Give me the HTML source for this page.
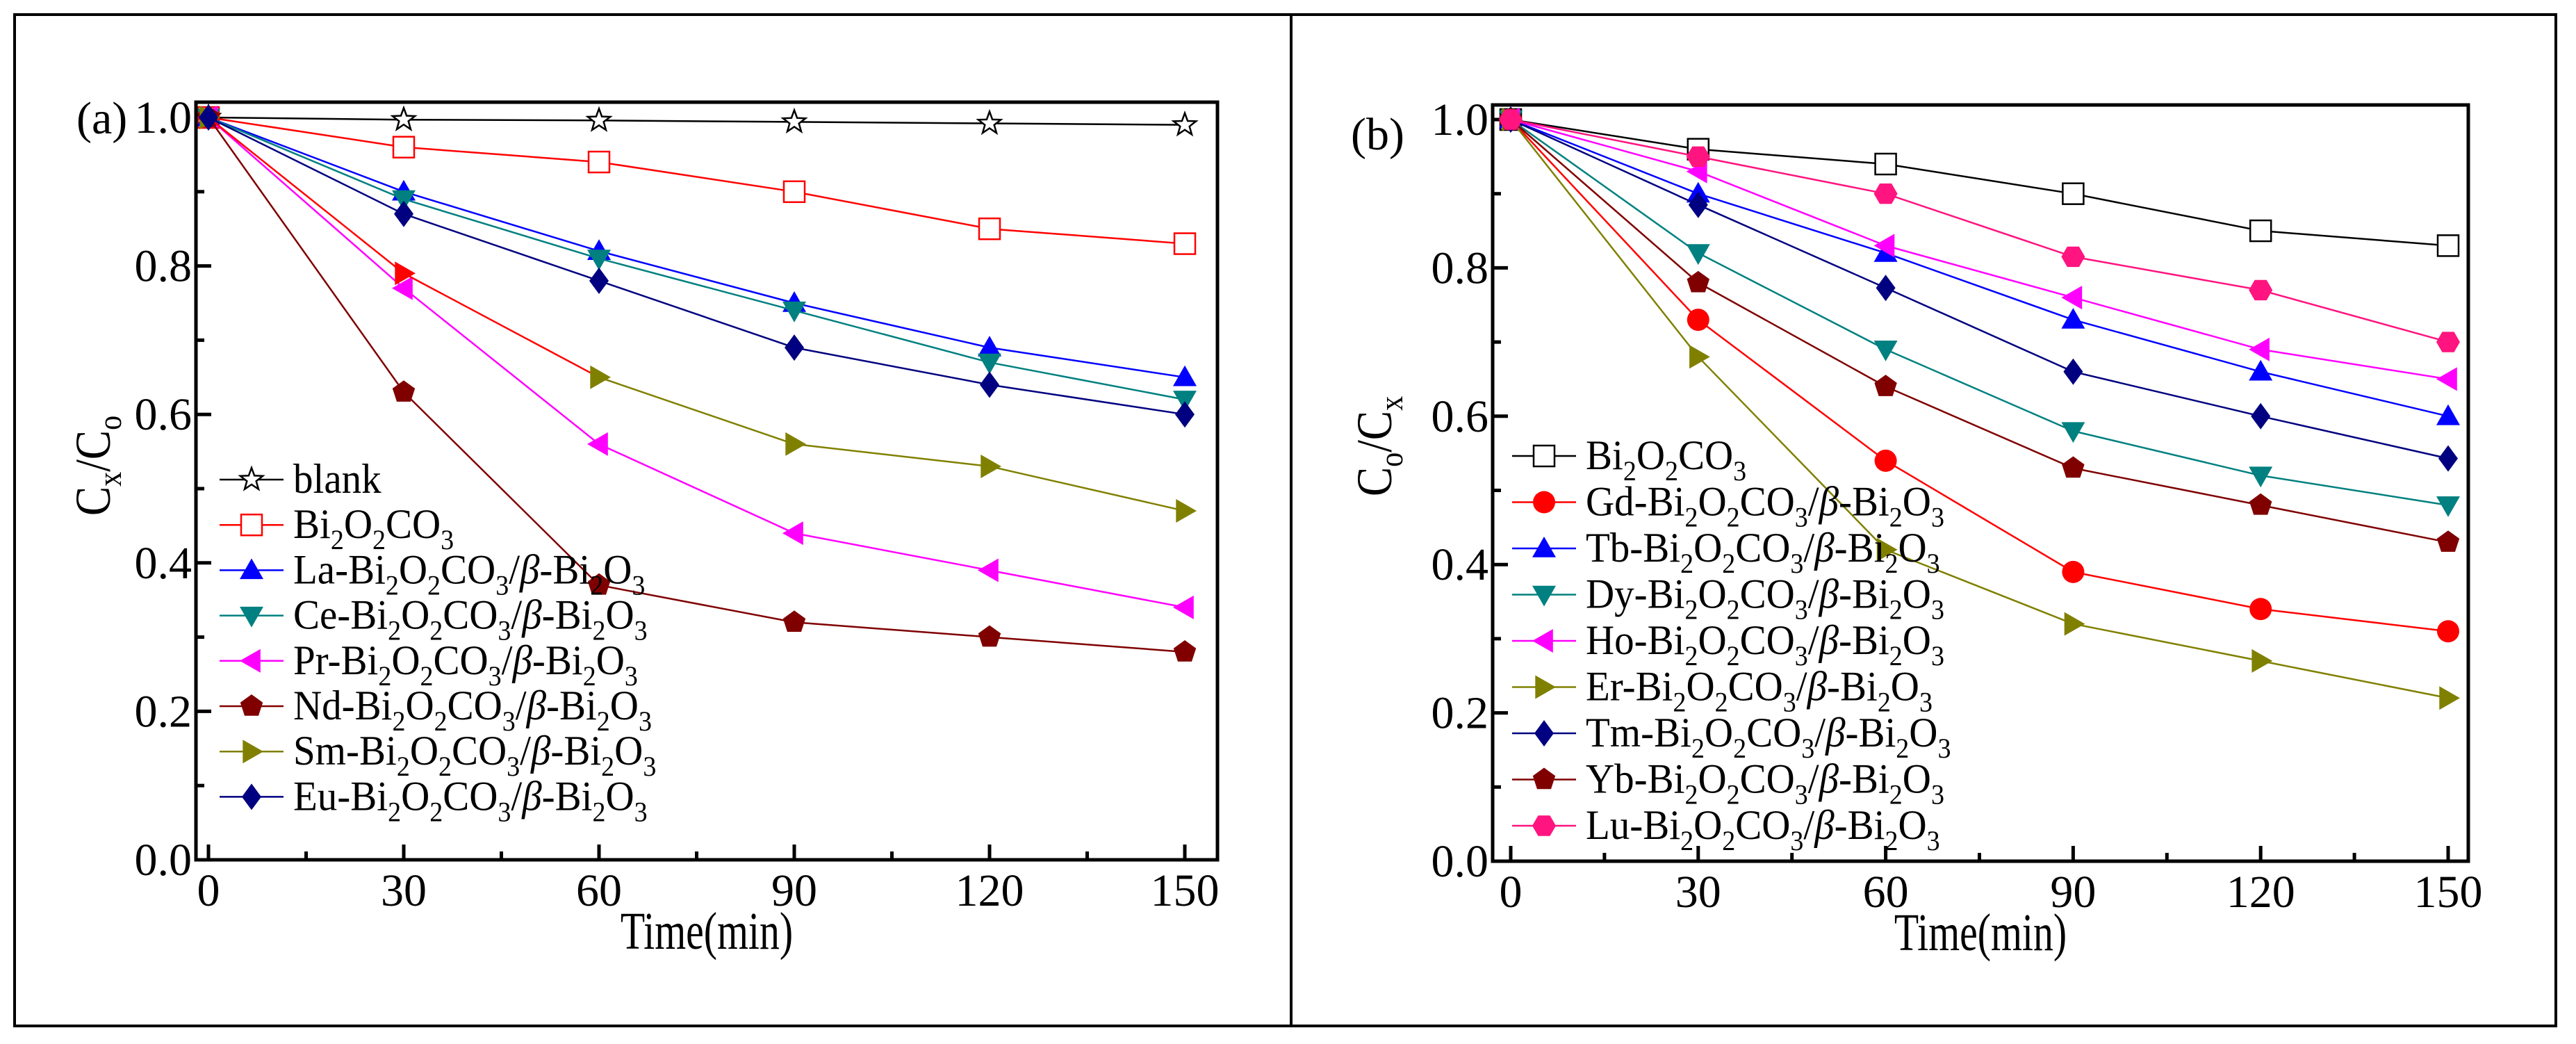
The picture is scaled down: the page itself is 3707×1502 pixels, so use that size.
<!DOCTYPE html>
<html><head><meta charset="utf-8">
<style>
html,body{margin:0;padding:0;background:#fff;}
svg{display:block;}
text{font-family:"Liberation Serif",serif;}
</style></head>
<body>
<svg id="fig" width="3707" height="1502" viewBox="0 0 3707 1502" xmlns="http://www.w3.org/2000/svg">
<rect x="21" y="21" width="3657" height="1455" fill="none" stroke="#000" stroke-width="4"/>
<line x1="1858" y1="21" x2="1858" y2="1476" stroke="#000" stroke-width="4"/>
</svg>
<script>
const timesA = [0,30,60,90,120,150];
const blankA = [1,0.997,0.996,0.994,0.992,0.99];
const bocA = [1,0.96,0.94,0.90,0.85,0.83];
const laA = [1,0.90,0.82,0.75,0.69,0.65];
const ceA = [1,0.89,0.81,0.74,0.67,0.62];
const prA = [1,0.77,0.56,0.44,0.39,0.34];
const ndA = [1,0.63,0.37,0.32,0.30,0.28];
const smA = [1,0.79,0.65,0.56,0.53,0.47];
const euA = [1,0.87,0.78,0.69,0.64,0.60];

const timesB = [0,30,60,90,120,150];
const bocB = [1,0.96,0.94,0.90,0.85,0.83];
const gdB = [1,0.73,0.54,0.39,0.34,0.31];
const tbB = [1,0.90,0.82,0.73,0.66,0.60];
const dyB = [1,0.82,0.69,0.58,0.52,0.48];
const hoB = [1,0.93,0.83,0.76,0.69,0.65];
const erB = [1,0.68,0.42,0.32,0.27,0.22];
const tmB = [1,0.885,0.773,0.66,0.60,0.543];
const ybB = [1,0.78,0.64,0.53,0.48,0.43];
const luB = [1,0.95,0.90,0.815,0.77,0.70];

const xTicks = [0,30,60,90,120,150];
const yTicks = [0.0,0.2,0.4,0.6,0.8,1.0];

const NS='http://www.w3.org/2000/svg';
const svg=document.getElementById('fig');
function mk(tag,attrs,parent){const e=document.createElementNS(NS,tag);for(const k in attrs)e.setAttribute(k,attrs[k]);(parent||svg).appendChild(e);return e;}
function squeeze(x,k){return `translate(${x},0) scale(${k},1) translate(${-x},0)`;}

function marker(g,type,cx,cy,color){
  const s=17;let e;
  if(type==='star'){
    let p=[];for(let i=0;i<10;i++){const r=i%2?7:17;const a=-Math.PI/2+i*Math.PI/5;p.push((cx+r*Math.cos(a)).toFixed(1)+','+(cy+r*Math.sin(a)).toFixed(1));}
    e=mk('polygon',{points:p.join(' '),fill:'#fff',stroke:color,'stroke-width':2.5},g);
  }else if(type==='osq'){
    e=mk('rect',{x:cx-15,y:cy-15,width:30,height:30,fill:'#fff',stroke:color,'stroke-width':2.5},g);
  }else if(type==='circle'){
    e=mk('circle',{cx:cx,cy:cy,r:16,fill:color},g);
  }else{
    let pts;
    if(type==='up')pts=[[0,-s],[s,s*0.75],[-s,s*0.75]];
    else if(type==='down')pts=[[0,s],[s,-s*0.75],[-s,-s*0.75]];
    else if(type==='left')pts=[[-s,0],[s*0.75,-s],[s*0.75,s]];
    else if(type==='right')pts=[[s,0],[-s*0.75,-s],[-s*0.75,s]];
    else if(type==='diamond')pts=[[0,-s-2],[s-3,0],[0,s+2],[-s+3,0]];
    else if(type==='pent'){pts=[];for(let i=0;i<5;i++){const a=-Math.PI/2+i*2*Math.PI/5;pts.push([s*Math.cos(a),s*Math.sin(a)]);}}
    else if(type==='hex'){pts=[];for(let i=0;i<6;i++){const a=i*Math.PI/3;pts.push([s*Math.cos(a),s*Math.sin(a)]);}}
    e=mk('polygon',{points:pts.map(p=>(cx+p[0]).toFixed(1)+','+(cy+p[1]).toFixed(1)).join(' '),fill:color},g);
  }
  return e;
}

function legendText(g,x,y,prefix,composite){
  const t=mk('text',{x:x,y:y,'font-size':60,fill:'#000',transform:squeeze(x,0.95)},g);
  const parts=[];
  if(composite){parts.push([prefix+'-Bi','n'],['2','s'],['O','n'],['2','s'],['CO','n'],['3','s'],['/','n'],['β','i'],['-Bi','n'],['2','s'],['O','n'],['3','s']);}
  else parts.push(['Bi','n'],['2','s'],['O','n'],['2','s'],['CO','n'],['3','s']);
  parts.forEach(([s,k],i)=>{
    const ts=mk('tspan',{},t);ts.textContent=s;
    if(k==='s'){ts.setAttribute('font-size','40');ts.setAttribute('dy','16');}
    else if(i>0&&parts[i-1][1]==='s'){ts.setAttribute('dy','-16');}
    if(k==='i')ts.setAttribute('font-style','italic');
  });
  return t;
}

function panel(cfg){
  const g=mk('g',{});
  
  
  const X=v=>cfg.x0+(v-0)/150*(cfg.x150-cfg.x0);
  const Y=v=>cfg.y0+(v-0)/1*(cfg.y1-cfg.y0);
  for(let v=0;v<=150;v+=15){
    const major=v%30===0;
    const tk=mk('line',{x1:X(v),x2:X(v),y1:cfg.bottom,y2:cfg.bottom-(major?22:12),stroke:'#000','stroke-width':5},g);
    
    
  }
  for(let i=0;i<=10;i++){
    const v=i/10;const major=i%2===0;
    const tk=mk('line',{x1:cfg.left,x2:cfg.left+(major?22:12),y1:Y(v),y2:Y(v),stroke:'#000','stroke-width':5},g);
    
    
  }
  xTicks.forEach(v=>{
    const t=mk('text',{x:X(v),y:cfg.bottom+66,'font-size':66,'text-anchor':'middle'},g);
    t.textContent=String(v);
    
    
  });
  yTicks.forEach(v=>{
    const t=mk('text',{x:cfg.left-6,y:Y(v)+22,'font-size':66,'text-anchor':'end'},g);
    t.textContent=v.toFixed(1);
    
    
  });
  cfg.series.forEach(s=>{
    const sg=mk('g',{},g);
    
    
    for(let i=0;i<s.data.length-1;i++){
      const c=(s.segColors&&s.segColors[i])||s.color;
      mk('line',{x1:X(s.times[i]),y1:Y(s.data[i]),x2:X(s.times[i+1]),y2:Y(s.data[i+1]),stroke:c,'stroke-width':2.5},sg);
    }
    s.data.forEach((v,i)=>{
      const c=(s.ptColors&&s.ptColors[i])||s.color;
      const m=marker(sg,s.mk,X(s.times[i]),Y(v),c);
      
      
    });
  });
  const fr=mk('rect',{x:cfg.left,y:cfg.top,width:cfg.right-cfg.left,height:cfg.bottom-cfg.top,fill:'none',stroke:'#000','stroke-width':5},g);
  
  
  const lg=mk('g',{},g);
  
  
  cfg.series.forEach((s,i)=>{
    const y=cfg.legY+i*cfg.legDy;
    const eg=mk('g',{},lg);
    
    
    mk('line',{x1:cfg.legX,x2:cfg.legX+92,y1:y,y2:y,stroke:s.color,'stroke-width':2.5},eg);
    marker(eg,s.mk,cfg.legX+46,y,s.color);
    if(s.plain){const t=mk('text',{x:cfg.legX+106,y:y+19,'font-size':60,transform:squeeze(cfg.legX+106,0.95)},eg);t.textContent=s.plain;}
    else legendText(eg,cfg.legX+106,y+19,s.prefix,s.composite);
  });
  const xc=(cfg.left+cfg.right)/2;
  const xt=mk('text',{x:xc,y:cfg.bottom+128,'font-size':76,'text-anchor':'middle',transform:squeeze(xc,0.76)},g);
  xt.textContent='Time(min)';
  
  
  const yt=mk('text',{x:0,y:0,'font-size':72,'text-anchor':'middle',transform:`translate(${cfg.ytX},${cfg.ytY}) rotate(-90) scale(0.88,1)`},g);
  const p=cfg.ytParts;
  [[p[0],0],[p[1],1],['/',0],[p[2],0],[p[3],1]].forEach(([s,sub],i,arr)=>{
    const ts=mk('tspan',{},yt);ts.textContent=s;
    if(sub){ts.setAttribute('font-size','48');ts.setAttribute('dy','16');}
    else if(i>0&&arr[i-1][1]){ts.setAttribute('dy','-16');}
  });
  
  
  const pl=mk('text',{x:cfg.plX,y:cfg.plY,'font-size':66},g);
  pl.textContent=cfg.label;
  
  
}

panel({name:'panel-a',left:282,right:1752,top:147,bottom:1237,x0:300,x150:1705,y0:1237,y1:169,
  legX:316,legY:690,legDy:65.2,ytX:158,ytY:670,ytParts:['C','x','C','o'],label:'(a)',plX:110,plY:192,
  series:[
    {key:'blank',times:timesA,data:blankA,color:'#000',mk:'star',plain:'blank'},
    {key:'bi2o2co3',times:timesA,data:bocA,color:'#ff0000',mk:'osq',composite:false},
    {key:'la',times:timesA,data:laA,color:'#0000ff',mk:'up',prefix:'La',composite:true},
    {key:'ce',times:timesA,data:ceA,color:'#008080',mk:'down',prefix:'Ce',composite:true},
    {key:'pr',times:timesA,data:prA,color:'#ff00ff',mk:'left',prefix:'Pr',composite:true},
    {key:'nd',times:timesA,data:ndA,color:'#800000',mk:'pent',prefix:'Nd',composite:true},
    {key:'sm',times:timesA,data:smA,color:'#808000',mk:'right',prefix:'Sm',composite:true,segColors:['#ff0000','#ff0000'],ptColors:[null,'#ff0000']},
    {key:'eu',times:timesA,data:euA,color:'#000080',mk:'diamond',prefix:'Eu',composite:true}
  ]});
panel({name:'panel-b',left:2148,right:3552,top:151,bottom:1239,x0:2174,x150:3523,y0:1239,y1:172,
  legX:2176,legY:656,legDy:66.5,ytX:2002,ytY:642,ytParts:['C','o','C','x'],label:'(b)',plX:1944,plY:215,
  series:[
    {key:'bi2o2co3',times:timesB,data:bocB,color:'#000',mk:'osq',composite:false},
    {key:'gd',times:timesB,data:gdB,color:'#ff0000',mk:'circle',prefix:'Gd',composite:true},
    {key:'tb',times:timesB,data:tbB,color:'#0000ff',mk:'up',prefix:'Tb',composite:true},
    {key:'dy',times:timesB,data:dyB,color:'#008080',mk:'down',prefix:'Dy',composite:true},
    {key:'ho',times:timesB,data:hoB,color:'#ff00ff',mk:'left',prefix:'Ho',composite:true},
    {key:'er',times:timesB,data:erB,color:'#808000',mk:'right',prefix:'Er',composite:true},
    {key:'tm',times:timesB,data:tmB,color:'#000080',mk:'diamond',prefix:'Tm',composite:true},
    {key:'yb',times:timesB,data:ybB,color:'#800000',mk:'pent',prefix:'Yb',composite:true},
    {key:'lu',times:timesB,data:luB,color:'#ff1480',mk:'hex',prefix:'Lu',composite:true}
  ]});
</script>
</body></html>
